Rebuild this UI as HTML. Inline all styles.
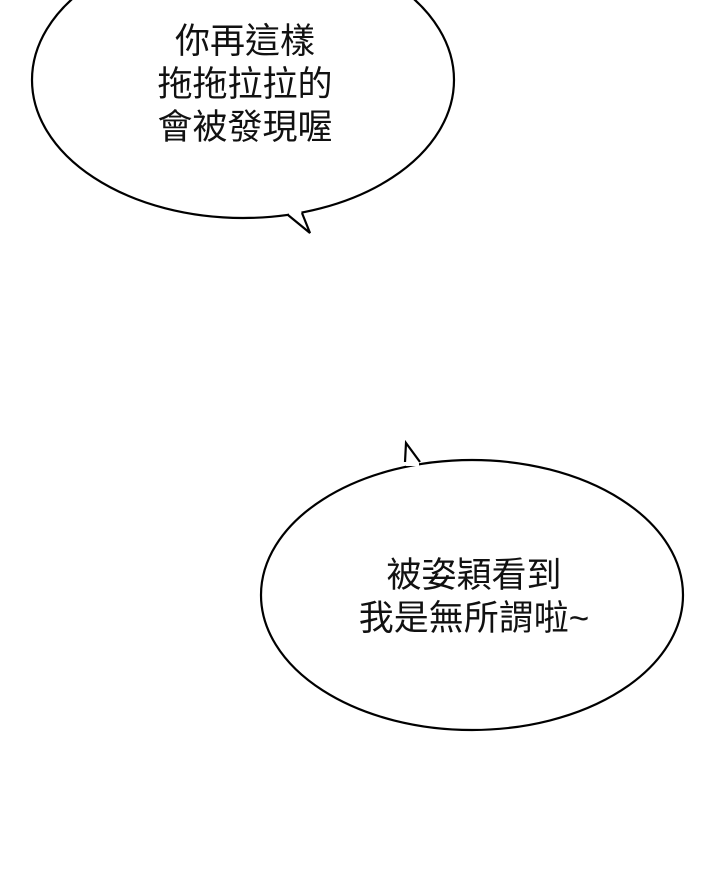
<!DOCTYPE html>
<html><head><meta charset="utf-8"><style>
html,body{margin:0;padding:0;background:#fff;width:720px;height:888px;overflow:hidden}
svg{position:absolute;left:0;top:0}
.t{position:absolute;font-family:"Liberation Sans","Noto Sans CJK TC",sans-serif;font-size:35px;line-height:43px;color:#111;text-align:center;white-space:nowrap}
</style></head><body>
<svg width="720" height="888" viewBox="0 0 720 888">
<ellipse cx="243" cy="80" rx="211" ry="138" fill="#fff" stroke="#000" stroke-width="2.2"/>
<polygon points="289,210 301,210 303,222 289,222" fill="#fff"/>
<path d="M288,215 L310,233 L302,213" fill="#fff" stroke="#000" stroke-width="2.2"/>
<ellipse cx="472" cy="595" rx="211" ry="135" fill="#fff" stroke="#000" stroke-width="2.2"/>
<polygon points="406,455 419,455 419,466 406,466" fill="#fff"/>
<path d="M405,462 L406,443 L420,462" fill="#fff" stroke="#000" stroke-width="2.2"/>
</svg>
<div class="t" style="left:95px;width:300px;top:20px">你再這樣<br>拖拖拉拉的<br>會被發現喔</div>
<div class="t" style="left:324px;width:300px;top:554px">被姿穎看到<br>我是無所謂啦~</div>
</body></html>
